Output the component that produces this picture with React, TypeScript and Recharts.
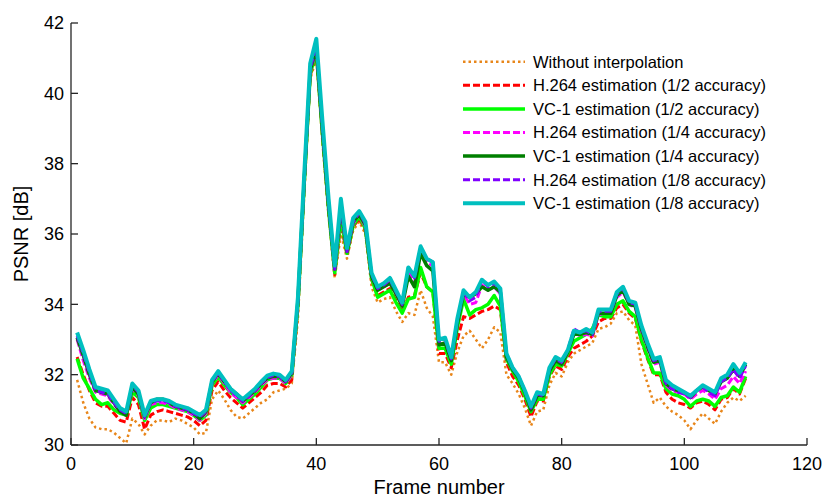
import React from "react";
import { LineChart, Line, XAxis, YAxis, Legend, Label } from "recharts";

const frames = [
  1, 2, 3, 4, 5, 6, 7, 8, 9, 10, 11, 12, 13, 14, 15, 16, 17, 18, 19, 20,
  21, 22, 23, 24, 25, 26, 27, 28, 29, 30, 31, 32, 33, 34, 35, 36, 37, 38, 39, 40,
  41, 42, 43, 44, 45, 46, 47, 48, 49, 50, 51, 52, 53, 54, 55, 56, 57, 58, 59, 60,
  61, 62, 63, 64, 65, 66, 67, 68, 69, 70, 71, 72, 73, 74, 75, 76, 77, 78, 79, 80,
  81, 82, 83, 84, 85, 86, 87, 88, 89, 90, 91, 92, 93, 94, 95, 96, 97, 98, 99, 100,
  101, 102, 103, 104, 105, 106, 107, 108, 109, 110,
];

const withoutInterp = [
  31.85, 31.2, 30.75, 30.5, 30.45, 30.45, 30.35, 30.2, 30.05, 30.75,
  30.6, 30.3, 30.55, 30.7, 30.7, 30.65, 30.75, 30.7, 30.6, 30.5,
  30.3, 30.35, 31.3, 31.55, 31.3, 31.0, 30.8, 30.75, 30.9, 31.05,
  31.2, 31.3, 31.5, 31.55, 31.6, 31.75, 33.6, 37.0, 40.4, 41.0,
  38.6, 36.5, 34.75, 36.0, 35.3, 36.1, 36.35, 36.0, 34.5, 34.05,
  34.15, 34.2, 33.8, 33.5, 33.75, 33.7, 34.4, 33.9, 33.65, 32.35,
  32.35, 32.0, 32.65, 33.1, 33.25, 33.0, 32.75, 33.0, 33.35, 33.2,
  32.0, 31.75, 31.45, 31.05, 30.55, 30.95, 31.0, 31.7, 32.05, 31.95,
  32.35, 32.6, 32.7, 32.8, 32.9, 33.3, 33.35, 33.45, 33.75, 33.8,
  33.55, 33.4, 32.3, 31.75, 31.2, 31.35, 31.1, 30.95, 30.85, 30.7,
  30.45, 30.7, 30.9, 30.75, 30.6, 30.95, 31.2, 31.35, 31.25, 31.4,
];

const h264Half = [
  32.5, 32.0, 31.55, 31.2, 31.1, 31.1, 30.9, 30.7, 30.65, 31.35,
  31.15, 30.45, 30.85, 30.95, 31.0, 30.95, 30.9, 30.85, 30.8, 30.7,
  30.55, 30.7, 31.55, 31.8, 31.55, 31.35, 31.2, 31.05, 31.2, 31.35,
  31.5, 31.7, 31.75, 31.75, 31.65, 31.85, 33.9, 37.25, 40.5, 41.15,
  38.8, 36.65, 34.85, 36.3, 35.4, 36.2, 36.45, 36.1, 34.7, 34.25,
  34.35, 34.45, 34.1, 33.8, 34.2, 34.25, 34.9, 34.5, 34.35, 32.6,
  32.6, 32.2, 33.0, 33.65, 33.6, 33.7, 33.8, 33.85, 33.95, 33.85,
  32.35, 31.95, 31.7, 31.3, 30.8, 31.25, 31.25, 31.95, 32.25, 32.15,
  32.5, 32.75, 32.85, 32.95, 33.1, 33.5, 33.6, 33.6, 33.9, 34.0,
  33.75, 33.6, 32.95, 32.45, 32.0, 32.0, 31.5, 31.3, 31.2, 31.15,
  31.05, 31.2, 31.25, 31.15, 31.0, 31.3, 31.35, 31.6, 31.45, 31.9,
];

const vc1Half = [
  32.45, 31.9, 31.6, 31.3, 31.15, 31.2, 31.0, 30.9, 30.85, 31.5,
  31.35, 30.7, 31.05, 31.15, 31.15, 31.1, 31.05, 31.0, 30.95, 30.85,
  30.7, 30.85, 31.7, 31.95, 31.7, 31.5, 31.35, 31.15, 31.3, 31.45,
  31.65, 31.85, 31.9, 31.9, 31.75, 32.0, 34.0, 37.35, 40.55, 41.2,
  38.85, 36.7, 34.9, 36.45, 35.45, 36.25, 36.5, 36.15, 34.75, 34.2,
  34.3, 34.4, 34.05, 33.75, 34.15, 34.2, 35.05, 34.5, 34.35, 32.75,
  32.75, 32.3, 33.35, 34.15, 33.7, 33.85, 33.9, 34.0, 34.25, 33.95,
  32.45, 32.1, 31.8, 31.4, 30.95, 31.3, 31.3, 32.0, 32.3, 32.25,
  32.6, 32.95, 33.05, 33.15, 33.3, 33.7, 33.65, 33.65, 34.0, 34.1,
  33.8, 33.65, 33.0, 32.5, 32.05, 32.05, 31.6, 31.45, 31.4, 31.3,
  31.1, 31.25, 31.3, 31.25, 31.1, 31.35, 31.4, 31.65, 31.5, 31.95,
];

const h264Quarter = [
  33.0, 32.4, 31.9, 31.5, 31.45, 31.4, 31.15, 30.95, 30.85, 31.6,
  31.4, 30.75, 31.15, 31.2, 31.2, 31.15, 31.05, 31.0, 30.95, 30.85,
  30.7, 30.9, 31.75, 32.0, 31.75, 31.5, 31.35, 31.2, 31.35, 31.5,
  31.7, 31.85, 31.9, 31.9, 31.75, 32.0, 34.05, 37.4, 40.6, 41.25,
  38.9, 36.75, 34.95, 36.6, 35.5, 36.3, 36.55, 36.2, 34.8, 34.4,
  34.5, 34.6, 34.3, 33.95, 34.95, 34.6, 35.5, 35.2, 35.1, 32.85,
  32.9, 32.4, 33.45, 34.3, 34.0, 34.05, 34.55, 34.4, 34.5, 34.3,
  32.5, 32.15, 31.9, 31.5, 31.0, 31.4, 31.4, 32.1, 32.4, 32.3,
  32.65, 33.2, 33.1, 33.15, 33.1, 33.7, 33.75, 33.75, 34.2, 34.35,
  34.0, 33.9, 33.25, 32.75, 32.3, 32.35, 31.7, 31.55, 31.5, 31.45,
  31.3, 31.45, 31.55, 31.45, 31.3, 31.6, 31.7, 31.95, 31.75, 32.1,
];

const vc1Quarter = [
  33.05, 32.55, 32.0, 31.55, 31.5, 31.45, 31.2, 30.95, 30.85, 31.65,
  31.45, 30.8, 31.2, 31.3, 31.3, 31.2, 31.1, 31.05, 31.0, 30.9,
  30.75, 30.95, 31.8, 32.05, 31.8, 31.6, 31.45, 31.25, 31.4, 31.55,
  31.75, 31.9, 31.95, 31.95, 31.8, 32.05, 34.1, 37.45, 40.65, 41.3,
  38.95, 36.8, 35.0, 36.75, 35.5, 36.35, 36.55, 36.25, 34.8, 34.4,
  34.5, 34.6, 34.3, 33.95, 34.8, 34.5, 35.45, 35.1, 34.95, 32.85,
  32.9, 32.4, 33.45, 34.3, 34.2, 34.3, 34.5, 34.4, 34.5, 34.35,
  32.5, 32.15, 31.9, 31.5, 31.0, 31.4, 31.4, 32.1, 32.4, 32.3,
  32.65, 33.15, 33.15, 33.2, 33.15, 33.75, 33.75, 33.75, 34.25, 34.4,
  34.0, 33.95, 33.3, 32.8, 32.35, 32.4, 31.75, 31.6, 31.55, 31.5,
  31.35, 31.55, 31.65, 31.55, 31.45, 31.8, 31.9, 32.15, 31.95, 32.3,
];

const h264Eighth = [
  33.1, 32.6, 32.05, 31.55, 31.5, 31.45, 31.2, 31.0, 30.9, 31.7,
  31.5, 30.8, 31.2, 31.25, 31.25, 31.2, 31.1, 31.05, 31.0, 30.9,
  30.8, 30.95, 31.8, 32.05, 31.8, 31.55, 31.4, 31.25, 31.4, 31.55,
  31.75, 31.92, 31.98, 31.95, 31.8, 32.05, 34.1, 37.5, 40.7, 41.35,
  39.0, 36.85, 35.0, 36.8, 35.5, 36.35, 36.6, 36.3, 34.85, 34.45,
  34.55, 34.7, 34.35, 34.0, 35.05, 34.75, 35.6, 35.3, 35.2, 32.95,
  33.0, 32.45, 33.55, 34.35, 34.1, 34.2, 34.7, 34.5, 34.6, 34.4,
  32.6, 32.2, 31.95, 31.55, 31.05, 31.45, 31.4, 32.15, 32.45, 32.35,
  32.7, 33.3, 33.2, 33.25, 33.15, 33.8, 33.8, 33.8, 34.3, 34.45,
  34.05, 34.0, 33.35, 32.85, 32.4, 32.45, 31.75, 31.6, 31.5, 31.45,
  31.35, 31.55, 31.65, 31.5, 31.4, 31.8, 31.9, 32.15, 31.9, 32.25,
];

const vc1Eighth = [
  33.2, 32.7, 32.15, 31.65, 31.6, 31.55, 31.3, 31.05, 30.95, 31.75,
  31.55, 30.85, 31.25, 31.3, 31.3, 31.25, 31.15, 31.1, 31.05, 30.95,
  30.85, 31.0, 31.85, 32.1, 31.85, 31.6, 31.45, 31.3, 31.45, 31.6,
  31.8, 31.97, 32.03, 32.0, 31.85, 32.1, 34.2, 37.6, 40.85, 41.55,
  39.2, 37.0, 35.1, 37.0, 35.6, 36.45, 36.65, 36.35, 34.9, 34.5,
  34.6, 34.75, 34.4, 34.05, 35.05, 34.8, 35.65, 35.3, 35.2, 33.0,
  33.05, 32.5, 33.6, 34.4, 34.2, 34.35, 34.7, 34.55, 34.65, 34.45,
  32.6, 32.2, 31.95, 31.55, 31.1, 31.5, 31.45, 32.2, 32.5, 32.4,
  32.7, 33.25, 33.2, 33.3, 33.2, 33.85, 33.85, 33.85, 34.35, 34.5,
  34.1, 34.05, 33.4, 32.9, 32.45, 32.5, 31.85, 31.7, 31.6, 31.5,
  31.4, 31.55, 31.7, 31.6, 31.5, 31.9, 32.0, 32.3, 32.05, 32.35,
];

const xTicks = [0, 20, 40, 60, 80, 100, 120];
const yTicks = [30, 32, 34, 36, 38, 40, 42];

const series = [
  { key: "none", name: "Without interpolation", values: withoutInterp, color: "#E8861A", width: 2.5, dash: "2.5 3" },
  { key: "h2", name: "H.264 estimation (1/2 accuracy)", values: h264Half, color: "#FF0000", width: 3, dash: "7 3" },
  { key: "v2", name: "VC-1 estimation (1/2 accuracy)", values: vc1Half, color: "#00FF00", width: 3.5, dash: undefined },
  { key: "h4", name: "H.264 estimation (1/4 accuracy)", values: h264Quarter, color: "#FF00FF", width: 3, dash: "7 3" },
  { key: "v4", name: "VC-1 estimation (1/4 accuracy)", values: vc1Quarter, color: "#007F00", width: 3.5, dash: undefined },
  { key: "h8", name: "H.264 estimation (1/8 accuracy)", values: h264Eighth, color: "#8000FF", width: 3, dash: "7 3" },
  { key: "v8", name: "VC-1 estimation (1/8 accuracy)", values: vc1Eighth, color: "#00BFBF", width: 4, dash: undefined },
];

const data = frames.map((f, i) => {
  const row: Record<string, number> = { frame: f };
  series.forEach((s) => {
    row[s.key] = s.values[i];
  });
  return row;
});

const FONT = "'Liberation Sans', Arial, Helvetica, sans-serif";

function LegendBox() {
  const rowH = 23.6;
  return (
    <svg width={350} height={175} style={{ display: "block" }}>
      {series.map((s, i) => {
        const y = 13.7 + rowH * i;
        return (
          <g key={s.key}>
            <line x1={5} x2={67} y1={y} y2={y} stroke={s.color} strokeWidth={s.width} strokeDasharray={s.dash} />
            <text x={75} y={y} dy="0.36em" fontSize={16.5} fontFamily={FONT} fill="#000">
              {s.name}
            </text>
          </g>
        );
      })}
    </svg>
  );
}

export default function App() {
  return (
    <div style={{ position: "absolute", left: 0, top: 0, width: 822, height: 497, fontFamily: FONT }}>
      <LineChart width={822} height={497} data={data} margin={{ top: 23, right: 15, bottom: 0, left: 0 }}>
        <XAxis
          dataKey="frame"
          type="number"
          domain={[0, 120]}
          ticks={xTicks}
          allowDataOverflow
          height={52}
          tickSize={-7}
          tickMargin={19}
          stroke="#262626"
          strokeWidth={1.3}
          tick={{ fill: "#000", fontSize: 18, fontFamily: FONT }}
        >
          <Label value="Frame number" position="insideBottom" offset={3} fill="#000" fontSize={20} fontFamily={FONT} />
        </XAxis>
        <YAxis
          type="number"
          domain={[30, 42]}
          ticks={yTicks}
          allowDataOverflow
          width={71}
          tickSize={-7}
          tickMargin={14}
          stroke="#262626"
          strokeWidth={1.3}
          tick={{ fill: "#000", fontSize: 18, fontFamily: FONT }}
        >
          <Label
            content={() => (
              <text x={28} y={234} transform="rotate(-90 28 234)" textAnchor="middle" fontSize={20} fontFamily={FONT} fill="#000">
                PSNR [dB]
              </text>
            )}
          />
        </YAxis>
        <Legend
          layout="vertical"
          align="center"
          verticalAlign="middle"
          wrapperStyle={{ left: 458, top: 48, width: 350, height: 175 }}
          content={() => <LegendBox />}
        />
        {series.map((s) => (
          <Line
            key={s.key}
            type="linear"
            dataKey={s.key}
            name={s.name}
            stroke={s.color}
            strokeWidth={s.width}
            strokeDasharray={s.dash}
            dot={false}
            activeDot={false}
            isAnimationActive={false}
            strokeLinejoin="round"
          />
        ))}
      </LineChart>
    </div>
  );
}
